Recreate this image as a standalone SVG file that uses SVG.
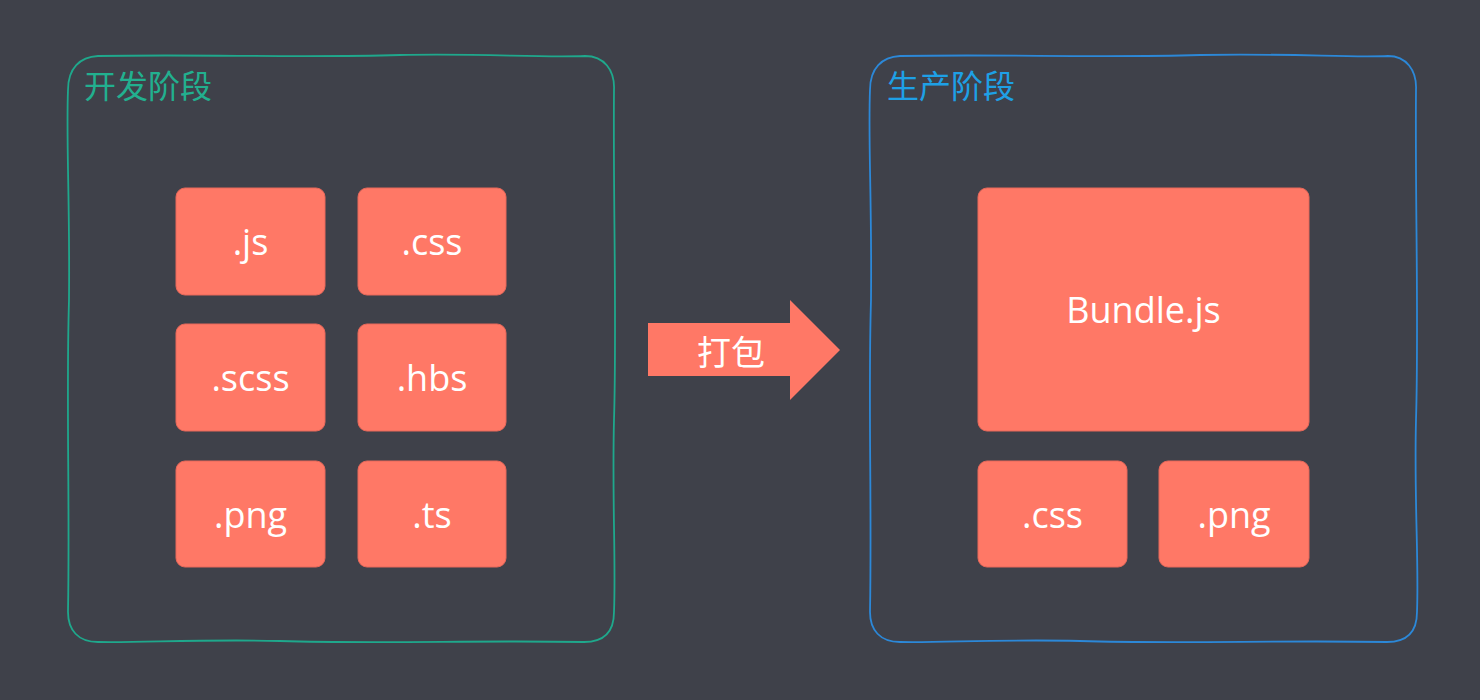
<svg xmlns="http://www.w3.org/2000/svg" width="1480" height="700" viewBox="0 0 1480 700">
<style>
.bg{fill:#3f414a}
.box{fill:#ff7866;stroke:#e8685a;stroke-width:1}
.lbl{font-family:"Open Sans","Noto Sans","Noto Sans CJK SC",sans-serif;font-size:36px;fill:#ffffff;text-anchor:middle;dominant-baseline:central}
.title{font-family:"Noto Sans CJK SC","Noto Sans",sans-serif;font-size:32px}
.frame{fill:none;stroke-width:1.8;stroke-linejoin:round}
</style>
<rect class="bg" x="0" y="0" width="1480" height="700"/>
<g id="dev-stage">
<path class="frame" stroke="#1fa88c" d="M98,56 C200,54 300,58 400,55 C480,53 540,58 585,56 C604,56 615,70 614,90 C613,200 617,320 614,420 C612,500 616,560 614,612 C614,632 604,642 584,642 C480,640 380,644 280,641 C200,639 140,643 98,642 C78,642 68,630 68,612 C70,500 66,400 69,300 C70,200 66,140 68,90 C68,68 80,57 98,56 Z"/>
<text class="title" x="84" y="98" fill="#22b08f">开发阶段</text>
</g>
<g id="prod-stage">
<path class="frame" stroke="#2c88d8" d="M900,56 C1000,54 1100,58 1200,55 C1290,53 1350,58 1388,56 C1406,56 1417,70 1416,90 C1415,200 1419,320 1416,420 C1414,500 1419,560 1417,612 C1417,632 1407,642 1387,642 C1280,640 1180,644 1080,641 C1000,639 940,643 900,642 C880,642 870,630 870,612 C872,500 868,400 871,300 C872,200 868,140 870,90 C870,68 882,57 900,56 Z"/>
<text class="title" x="887" y="98" fill="#1ea0e6">生产阶段</text>
</g>
<g id="n-js"><rect class="box" x="176" y="188" width="149" height="107" rx="9"/><text class="lbl" x="250.5" y="241.5">.js</text></g>
<g id="n-css"><rect class="box" x="358" y="188" width="148" height="107" rx="9"/><text class="lbl" x="432" y="241.5">.css</text></g>
<g id="n-scss"><rect class="box" x="176" y="324" width="149" height="107" rx="9"/><text class="lbl" x="250.5" y="377.5">.scss</text></g>
<g id="n-hbs"><rect class="box" x="358" y="324" width="148" height="107" rx="9"/><text class="lbl" x="432" y="377.5">.hbs</text></g>
<g id="n-png"><rect class="box" x="176" y="461" width="149" height="106" rx="9"/><text class="lbl" x="250.5" y="514">.png</text></g>
<g id="n-ts"><rect class="box" x="358" y="461" width="148" height="106" rx="9"/><text class="lbl" x="432" y="514">.ts</text></g>
<g id="n-bundle"><rect class="box" x="978" y="188" width="331" height="243" rx="9"/><text class="lbl" x="1143.5" y="309.5">Bundle.js</text></g>
<g id="n-out-css"><rect class="box" x="978" y="461" width="149" height="106" rx="9"/><text class="lbl" x="1052.5" y="514">.css</text></g>
<g id="n-out-png"><rect class="box" x="1159" y="461" width="150" height="106" rx="9"/><text class="lbl" x="1234" y="514">.png</text></g>
<g id="connectors">
<g id="pack-arrow">
<polygon fill="#ff7866" points="648,323 790,323 790,300 840,350 790,400 790,376 648,376"/>
<text class="lbl" x="731" y="350" style="font-family:'Noto Sans CJK SC','Noto Sans',sans-serif;font-size:34px">打包</text>
</g>
</g>
</svg>
